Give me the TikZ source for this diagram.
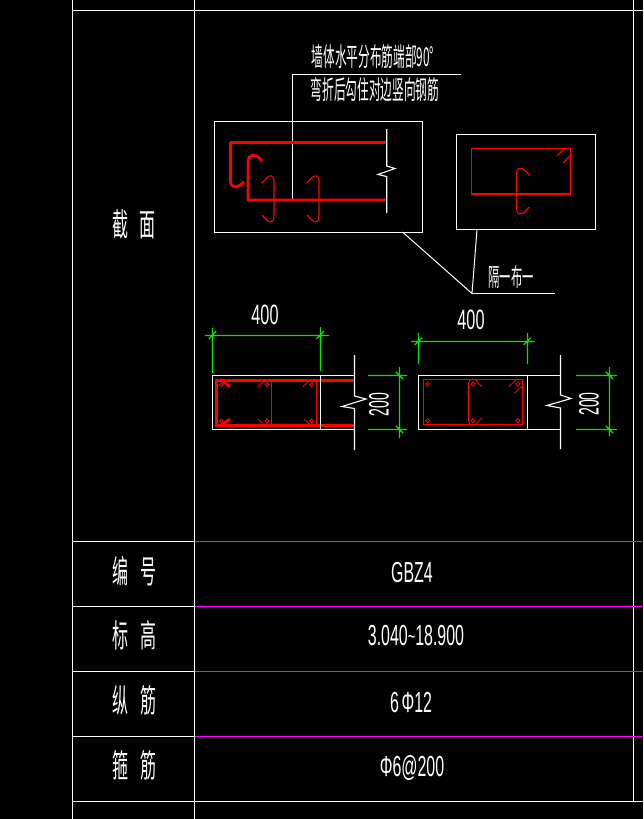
\documentclass[tikz,border=0pt]{standalone}
\usepackage{fontspec}
\setmainfont{Liberation Sans}
\newfontfamily\cjkf{Noto Sans CJK SC}
\definecolor{rebar}{RGB}{255,0,0}
\definecolor{dimg}{RGB}{0,230,0}
\definecolor{magl}{RGB}{255,0,255}
\tikzset{
  frameline/.style={draw=white,line width=1.1pt},
  thick bar/.style={draw=rebar,line width=2.8pt},
  thin bar/.style={draw=rebar,line width=1.1pt},
  dimline/.style={draw=dimg,line width=1.2pt},
  rowlabel/.style={text=white,inner sep=0pt,font={\cjkf\fontsize{32}{34}\selectfont},xscale=.5,transform shape},
  notetext/.style={text=white,inner sep=0pt,font={\cjkf\fontsize{26}{28}\selectfont},xscale=.45,transform shape},
  valuetext/.style={text=white,inner sep=0pt,font={\fontsize{29}{31}\selectfont},xscale=.55,transform shape},
  dimtext/.style={text=white,inner sep=0pt,font={\fontsize{28}{30}\selectfont},xscale=.58,transform shape},
  sidedimtext/.style={text=white,inner sep=0pt,font={\fontsize{28}{30}\selectfont},xscale=.5,transform shape}
}
\begin{document}
\begin{tikzpicture}[x=1pt,y=-1pt]
\path[fill=black] (0,0) rectangle (643,819);
\useasboundingbox (0,0) rectangle (643,819);
% table
\draw[frameline] (72.5,0) -- (72.5,819);
\draw[frameline] (194.5,0) -- (194.5,819);
\draw[frameline] (633.5,0) -- (633.5,801.5);
\draw[frameline] (72.5,10.5) -- (643,10.5);
\foreach \yy in {541.5,606.5,671.5,736.5} {
  \draw[frameline] (72.5,\yy) -- (194.5,\yy);
  \draw[draw=magl,line width=1.1pt] (194.5,\yy) -- (643,\yy);
}
\draw[frameline] (72.5,801.5) -- (643,801.5);
% row labels
\node[rowlabel] (lsec) at (134,224) {截\hspace{22pt}面};
\node[rowlabel] (lnum) at (134,571) {编\hspace{24pt}号};
\node[rowlabel] (lele) at (134,635) {标\hspace{24pt}高};
\node[rowlabel] (llon) at (134,700) {纵\hspace{24pt}筋};
\node[rowlabel] (lsti) at (134,765) {箍\hspace{24pt}筋};
% values
\node[valuetext] (vnum) at (412,573) {GBZ4};
\node[valuetext] (vele) at (416,636) {3.040\raisebox{1pt}{\scalebox{.8}{\char"007E}}18.900};
\node[valuetext] (vlon) at (411,703) {6\,Φ12};
\node[valuetext] (vsti) at (412,768) {Φ6@200};
% notes
\node[notetext] (n1) at (373,57) {墙体水平分布筋端部90°};
\node[notetext] (n2) at (375,90) {弯折后勾住对边竖向钢筋};
\node[notetext,font={\cjkf\fontsize{25}{27}\selectfont}] (n3) at (511,277) {隔一布一};
% detail 1
\draw[frameline] (214.5,121.5) rectangle (422.5,232.5);
\draw[frameline] (461,74.5) -- (292.5,74.5) -- (292.5,200);
\draw[thick bar,line join=round] (386,142.5) -- (230.5,142.5) -- (230.5,181)
  .. controls (230.5,188) and (237,189) .. (244,182);
\draw[thick bar,line join=round] (386,200) -- (248,200) -- (248,162)
  .. controls (248,153) and (256,153) .. (262,161);
\draw[thin bar,line join=round] (261.5,183) -- (268,176.8) .. controls (271,174.5) and (274,176) .. (274,181)
  -- (274,216) .. controls (274,222) and (271,223) .. (268,221) -- (262,215);
\draw[thin bar,line join=round] (306.5,183) -- (313,176.8) .. controls (316,174.5) and (319,176) .. (319,181)
  -- (319,216) .. controls (319,222) and (316,223) .. (313,221) -- (307,215);
\draw[frameline] (386.7,129) -- (386.7,166) -- (395,168.5) -- (378,174.5) -- (386.7,176.5) -- (386.7,213);
% detail 2
\draw[frameline] (456.7,134.5) rectangle (595.5,229.5);
\draw[thin bar] (471.5,148.5) rectangle (570.5,194);
\draw[thin bar] (557.5,155.7) -- (564,148.5) (563,163) -- (570.5,155.5);
\draw[thin bar,line join=round] (529.5,175.5) -- (524,169.5) .. controls (521,167) and (516.5,168) .. (516.5,173)
  -- (516.5,209) .. controls (516.5,214.5) and (521,215) .. (524,212.5) -- (529.5,207);
% leader
\draw[draw=white,line width=1pt] (402.5,232) -- (472,293.5) -- (477,229.5);
\draw[frameline] (472,293.5) -- (555,293.5);
% detail 3
\draw[frameline] (354.5,375.5) -- (212.5,375.5) -- (212.5,429.5) -- (354.5,429.5);
\draw[thick bar] (354.5,380.3) -- (216.5,380.3) -- (216.5,425.5) -- (354.5,425.5);
\draw[frameline] (320.5,375.5) -- (320.5,429.5);
\draw[draw=rebar,line width=1pt] (271.5,381) -- (271.5,425) (316.5,381) -- (316.5,425);
\draw[thick bar] (220,379.3) -- (230,386.7) (220,426) -- (230,419);
\foreach \cx/\cy in {221.3/384.7,267/384.7,311.7/384.7,221.3/421,267/421,311.7/421}
  \draw[draw=rebar,line width=.9pt] (\cx,\cy) circle (1.9pt);
\draw[draw=rebar,line width=.9pt] (258,386.7) -- (263.3,381.7) (302.7,386.7) -- (308.3,381.7)
  (258,419) -- (263.3,424) (304,419) -- (309.3,424);
\draw[frameline] (354.5,355) -- (354.5,396) -- (366,399) -- (342,406.5) -- (354.5,408.5) -- (354.5,450);
\draw[dimline] (205,335.5) -- (329,335.5) (212.5,328) -- (212.5,373) (320.5,327) -- (320.5,371)
  (208.8,339) -- (216.2,331) (316.6,339) -- (324,331);
\draw[dimline] (368,375.5) -- (407,375.5) (368,429.5) -- (407,429.5) (399.5,367) -- (399.5,438)
  (395.8,371.8) -- (403.2,379.2) (395.8,425.8) -- (403.2,433.2);
\node[dimtext] (d1) at (265,315) {400};
\node[rotate=90,sidedimtext] (d2) at (379,404.5) {200};
% detail 4
\draw[frameline] (560.5,375.5) -- (418.5,375.5) -- (418.5,429.5) -- (560.5,429.5);
\draw[frameline] (527.5,375.5) -- (527.5,429.5);
\draw[thin bar] (423.5,379.5) rectangle (522.5,424.5);
\draw[thin bar,rounded corners=2pt] (470,380) -- (468.5,382) -- (468.5,422) -- (470,424);
\foreach \cx/\cy in {427.7/384,473/384,518/384,427.7/420.7,473/420.7,518/420.5}
  \draw[draw=rebar,line width=.9pt] (\cx,\cy) circle (1.9pt);
\draw[draw=rebar,line width=.9pt] (475.7,380) -- (481.7,386.7) (509,386.7) -- (515.7,380)
  (514.3,393.3) -- (522.3,386) (476,424) -- (482.3,417.7);
\draw[frameline] (560.5,355) -- (560.5,395) -- (571,398.5) -- (547,405.5) -- (560.5,408) -- (560.5,449);
\draw[dimline] (411,341.5) -- (535,341.5) (418.5,333) -- (418.5,364) (527.5,333) -- (527.5,364)
  (414.8,345) -- (422.2,337.6) (523.6,345) -- (531,337.6);
\draw[dimline] (576,375.5) -- (617,375.5) (576,429.5) -- (617,429.5) (609.5,367) -- (609.5,436)
  (605.8,371.8) -- (613.2,379.2) (605.8,425.8) -- (613.2,433.2);
\node[dimtext] (d3) at (471,320) {400};
\node[rotate=90,sidedimtext] (d4) at (589,404) {200};
\end{tikzpicture}
\end{document}
